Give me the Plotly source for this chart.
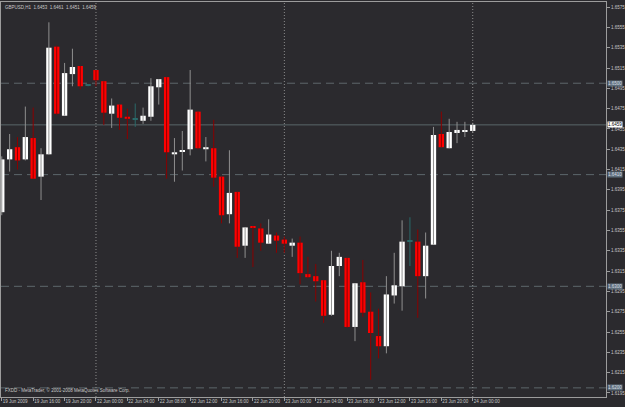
import plotly.graph_objects as go

# ---------------- data ----------------
x_labels = ["19 Jun 2009", "19 Jun 16:00", "19 Jun 20:00", "22 Jun 00:00", "22 Jun 04:00",
            "22 Jun 08:00", "22 Jun 12:00", "22 Jun 16:00", "22 Jun 20:00", "23 Jun 00:00",
            "23 Jun 04:00", "23 Jun 08:00", "23 Jun 12:00", "23 Jun 16:00", "23 Jun 20:00",
            "24 Jun 00:00"]
x_label_bars = [0, 4, 8, 12, 16, 20, 24, 28, 32, 36, 40, 44, 48, 52, 56, 60]
separator_bars = [12, 36, 60]

opens = [1.6373, 1.6425, 1.6437, 1.6425, 1.6446, 1.6408, 1.6430, 1.6536, 1.6468, 1.6509,
         1.6517, 1.6498, 1.6513, 1.6502, 1.6470, 1.6479, 1.6467, 1.6465, 1.6463, 1.6467,
         1.6496, 1.6506, 1.6430, 1.6433, 1.6435, 1.6472, 1.6435, 1.6436, 1.6408, 1.6371,
         1.6393, 1.6340, 1.6359, 1.6357, 1.6342, 1.6350, 1.6346, 1.6340, 1.6343, 1.6312,
         1.6310, 1.6306, 1.6272, 1.6320, 1.6328, 1.6260, 1.6304, 1.6275, 1.6251, 1.6241,
         1.6291, 1.6300, 1.6345, 1.6344, 1.6310, 1.6341, 1.6450, 1.6436, 1.6451, 1.6453,
         1.6453]
highs = [1.6428, 1.6450, 1.6447, 1.6477, 1.6476, 1.6436, 1.6560, 1.6537, 1.6520, 1.6534,
         1.6517, 1.6499, 1.6513, 1.6502, 1.6485, 1.6479, 1.6475, 1.6480, 1.6476, 1.6505,
         1.6504, 1.6506, 1.6446, 1.6453, 1.6513, 1.6472, 1.6447, 1.6464, 1.6408, 1.6434,
         1.6393, 1.6358, 1.6359, 1.6362, 1.6366, 1.6353, 1.6349, 1.6347, 1.6349, 1.6329,
         1.6322, 1.6306, 1.6335, 1.6333, 1.6328, 1.6303, 1.6326, 1.6294, 1.6278, 1.6310,
         1.6333, 1.6365, 1.6368, 1.6356, 1.6353, 1.6457, 1.6472, 1.6465, 1.6462, 1.6462,
         1.6461]
lows = [1.6370, 1.6413, 1.6415, 1.6424, 1.6406, 1.6385, 1.6430, 1.6469, 1.6468, 1.6497,
        1.6494, 1.6497, 1.6497, 1.6459, 1.6456, 1.6454, 1.6445, 1.6457, 1.6460, 1.6463,
        1.6479, 1.6406, 1.6403, 1.6414, 1.6429, 1.6435, 1.6423, 1.6398, 1.6362, 1.6362,
        1.6328, 1.6328, 1.6319, 1.6335, 1.6342, 1.6333, 1.6333, 1.6329, 1.6302, 1.6308,
        1.6285, 1.6264, 1.6271, 1.6310, 1.6259, 1.6246, 1.6270, 1.6208, 1.6229, 1.6234,
        1.6283, 1.6276, 1.6320, 1.6269, 1.6288, 1.6341, 1.6437, 1.6436, 1.6441, 1.6447,
        1.6451]
closes = [1.6425, 1.6435, 1.6424, 1.6447, 1.6406, 1.6430, 1.6535, 1.6470, 1.6510, 1.6516,
          1.6497, 1.6498, 1.6503, 1.6471, 1.6478, 1.6466, 1.6465, 1.6465, 1.6468, 1.6497,
          1.6504, 1.6432, 1.6432, 1.6434, 1.6474, 1.6436, 1.6437, 1.6407, 1.6370, 1.6392,
          1.6339, 1.6358, 1.6358, 1.6343, 1.6351, 1.6345, 1.6342, 1.6343, 1.6313, 1.6309,
          1.6305, 1.6271, 1.6320, 1.6329, 1.6260, 1.6303, 1.6274, 1.6254, 1.6241, 1.6292,
          1.6301, 1.6344, 1.6345, 1.6310, 1.6340, 1.6449, 1.6437, 1.6452, 1.6454, 1.6454,
          1.6459]

y_ticks = [1.6575, 1.6555, 1.6535, 1.6515, 1.6495, 1.6475, 1.6455, 1.6435, 1.6415, 1.6395,
           1.6375, 1.6355, 1.6335, 1.6315, 1.6295, 1.6275, 1.6255, 1.6235, 1.6215, 1.6195]
grid_levels = [1.6500, 1.6410, 1.6300, 1.6200]
last_price = 1.6459
title_text = "GBPUSD,H1  1.6453  1.6461  1.6451  1.6459"
footer_text = "FXDD - MetaTrader, © 2001-2008 MetaQuotes Software Corp."

# ---------------- style ----------------
BG = "#2b2a2e"
AXIS = "#9c9c9c"
TXT = "#c8c8c8"
FONT = "Liberation Sans, Arial"
FS = 4.5
BULL_BODY, BULL_WICK = "#ffffff", "#8f8f8f"
BEAR_BODY, BEAR_WICK = "#ff0000", "#8a0000"
DOJI = "#2a6a6a"
BODY_W = 0.68
MIN_H = 0.0001

groups = {"bull": ([], [], []), "bear": ([], [], []), "doji": ([], [], [])}
wick_xy = {"bull": ([], []), "bear": ([], []), "doji": ([], [])}
for i, (o, h, l, c) in enumerate(zip(opens, highs, lows, closes)):
    k = "bull" if c > o else ("bear" if c < o else "doji")
    bx, bb, bh = groups[k]
    bx.append(i)
    bb.append(min(o, c) if abs(c - o) >= MIN_H else min(o, c) - MIN_H / 2)
    bh.append(max(abs(c - o), MIN_H))
    wx, wy = wick_xy[k]
    wx += [i, i, None]
    wy += [l, h, None]

fig = go.Figure()
colors = {"bull": (BULL_BODY, BULL_WICK), "bear": (BEAR_BODY, BEAR_WICK), "doji": (DOJI, DOJI)}
for k in ["bull", "bear", "doji"]:
    wx, wy = wick_xy[k]
    fig.add_trace(go.Scatter(x=wx, y=wy, mode="lines", line=dict(color=colors[k][1], width=1),
                             hoverinfo="skip", showlegend=False))
for k in ["bull", "bear", "doji"]:
    bx, bb, bh = groups[k]
    fig.add_trace(go.Bar(x=bx, y=bh, base=bb, width=BODY_W,
                         marker=dict(color=colors[k][0], line=dict(width=0)),
                         hoverinfo="skip", showlegend=False))

shapes = []
for g in grid_levels:
    shapes.append(dict(type="line", xref="paper", x0=0, x1=1, yref="y", y0=g, y1=g,
                       line=dict(color="#5d676b", width=1, dash="8px,5px"), layer="below"))
for s in separator_bars:
    shapes.append(dict(type="line", xref="x", x0=s, x1=s, yref="paper", y0=0, y1=1,
                       line=dict(color="#8c8c8c", width=1, dash="1px,2px"), layer="below"))
shapes.append(dict(type="line", xref="paper", x0=0, x1=1, yref="y", y0=last_price, y1=last_price,
                   line=dict(color="#5a6669", width=1), layer="below"))

annotations = [
    dict(xref="paper", yref="paper", x=0.004, y=0.998, xanchor="left", yanchor="top", text=title_text,
         showarrow=False, font=dict(family=FONT, size=FS, color=TXT)),
    dict(xref="paper", yref="paper", x=0.004, y=0.004, xanchor="left", yanchor="bottom", text=footer_text,
         showarrow=False, font=dict(family=FONT, size=FS, color=TXT)),
]
for g in grid_levels:
    annotations.append(dict(xref="paper", yref="y", x=1, y=g, xanchor="left", yanchor="middle", xshift=1,
                            text=f"{g:.4f}", showarrow=False, bgcolor="#5e6e7c", borderpad=0,
                            font=dict(family=FONT, size=FS, color="#d8dee4")))
annotations.append(dict(xref="paper", yref="y", x=1, y=last_price, xanchor="left", yanchor="middle", xshift=1,
                        text=f"{last_price:.4f}", showarrow=False, bgcolor="#ffffff", borderpad=0,
                        font=dict(family=FONT, size=FS, color="#000000")))

fig.update_layout(
    width=625, height=407,
    margin=dict(l=1, r=19, t=2, b=10, autoexpand=False),
    paper_bgcolor=BG, plot_bgcolor=BG,
    barmode="overlay", showlegend=False,
    shapes=shapes, annotations=annotations,
    font=dict(family=FONT, size=FS, color=TXT),
    xaxis=dict(range=[-0.1, 76.98], tickmode="array", tickvals=x_label_bars, ticktext=x_labels,
               tickangle=0, automargin=False,
               ticks="outside", ticklen=3, tickcolor=AXIS, showgrid=False, zeroline=False,
               showline=True, linecolor=AXIS, mirror=True, ticklabelposition="outside right",
               tickfont=dict(family=FONT, size=FS, color=TXT)),
    yaxis=dict(range=[1.6191, 1.6580], side="right", tickmode="array", tickvals=y_ticks,
               ticktext=[f"{v:.4f}" for v in y_ticks], ticks="outside", ticklen=3, tickcolor=AXIS,
               automargin=False,
               showgrid=False, zeroline=False, showline=True, linecolor=AXIS, mirror=True,
               tickfont=dict(family=FONT, size=FS, color=TXT)),
)

fig.write_html("out.html")
